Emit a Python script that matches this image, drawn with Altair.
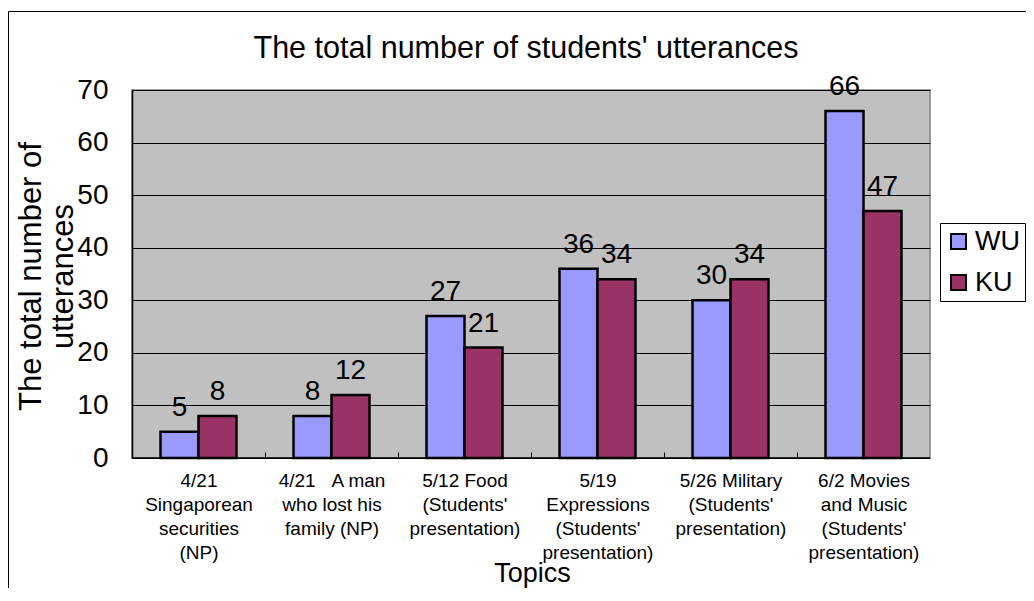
import altair as alt
import pandas as pd

# ---- data ----
topics = [
    "4/21|Singaporean|securities|(NP)",
    "4/21\u00a0\u00a0\u00a0A man|who lost his|family (NP)",
    "5/12 Food|(Students'|presentation)",
    "5/19|Expressions|(Students'|presentation)",
    "5/26 Military|(Students'|presentation)",
    "6/2 Movies|and Music|(Students'|presentation)",
]
groups = ["WU", "KU"]
wu_values = [5, 8, 27, 36, 30, 66]
ku_values = [8, 12, 21, 34, 34, 47]
y_ticks = [0, 10, 20, 30, 40, 50, 60, 70]
colors = ["#9999FF", "#993366"]

rows = []
for t, a, b in zip(topics, wu_values, ku_values):
    rows.append({"topic": t, "group": "WU", "value": a})
    rows.append({"topic": t, "group": "KU", "value": b})
df = pd.DataFrame(rows)

W, H = 798, 368
FONT = "Liberation Sans"

x_enc = alt.X(
    "topic:N",
    sort=topics,
    scale=alt.Scale(paddingInner=3 / 7, paddingOuter=3 / 14),
    axis=alt.Axis(
        title="Topics",
        labelAngle=0,
        labelExpr="split(datum.label, '|')",
        labelFontSize=19,
        labelLineHeight=24,
        labelPadding=13,
        labelColor="black",
        labelLimit=400,
        labelOffset=66.5,
        tickSize=6,
        tickColor="black",
        tickOffset=-66.5,
        offset=-6,
        domain=False,
        titleFontSize=27,
        titleFontWeight="normal",
        titleColor="black",
        titleX=400,
        titleY=129,
        titleBaseline="alphabetic",
        titleAlign="center",
    ),
)
xoff = alt.XOffset("group:N", sort=groups, scale=alt.Scale(paddingInner=0, paddingOuter=0))
y_enc = alt.Y(
    "value:Q",
    scale=alt.Scale(domain=[0, 70], nice=False),
    axis=alt.Axis(
        values=y_ticks,
        labelFontSize=28,
        labelPadding=24,
        labelColor="black",
        ticks=False,
        domainColor="black",
        domainWidth=1.5,
        grid=True,
        gridColor="black",
        gridWidth=1,
        gridOpacity=1,
        title=["The total number of", "utterances"],
        titleFontSize=31,
        titleFontWeight="normal",
        titleColor="black",
        titleAngle=270,
        titleX=-92,
        titleY=186,
        titleAlign="center",
        titleBaseline="alphabetic",
        titleLineHeight=32,
    ),
)
color_enc = alt.Color(
    "group:N",
    sort=groups,
    scale=alt.Scale(domain=groups, range=colors),
    legend=alt.Legend(
        orient="none",
        legendX=808,
        legendY=133,
        title=None,
        symbolType="square",
        symbolSize=225,
        symbolStrokeColor="black",
        symbolStrokeWidth=2,
        symbolOpacity=1,
        labelFontSize=27,
        labelColor="black",
        labelOffset=3,
        rowPadding=13,
        padding=5,
        strokeColor="black",
        fillColor="white",
    ),
)

base = alt.Chart(df)

bars = base.mark_bar(stroke="black", strokeWidth=2.5, opacity=1).encode(
    x=x_enc, xOffset=xoff, y=y_enc, color=color_enc
)

labels = base.mark_text(dy=-16, baseline="alphabetic", fontSize=28, color="black").encode(
    x=alt.X("topic:N", sort=topics), xOffset=xoff, y="value:Q", text="value:Q"
)

frame_df = pd.DataFrame({"k": [0]})
bottom_line = alt.Chart(frame_df).mark_rule(color="black", strokeWidth=1.5).encode(
    x=alt.value(0), x2=alt.value(W), y=alt.value(H)
)
outer_border = alt.Chart(frame_df).mark_rect(fill="transparent", stroke="black", strokeWidth=1).encode(
    x=alt.value(-123.5), x2=alt.value(2000), y=alt.value(-78.5), y2=alt.value(2000)
)

chart = (
    alt.layer(outer_border, bars, labels, bottom_line)
    .properties(
        width=W,
        height=H,
        title=alt.TitleParams(
            "The total number of students' utterances",
            fontSize=30.5,
            fontWeight="normal",
            color="black",
            anchor="middle",
            baseline="alphabetic",
            frame="group",
            offset=-77,
            dx=-5,
        ),
        autosize=alt.AutoSizeParams(type="none"),
        padding={"left": 124, "top": 82, "right": 96, "bottom": 130},
    )
    .configure(font=FONT, background="white")
    .configure_view(fill="#C0C0C0", stroke="#808080", strokeWidth=1.5)
)

chart.save("out.html", embed_options={"renderer": "svg", "actions": False})
